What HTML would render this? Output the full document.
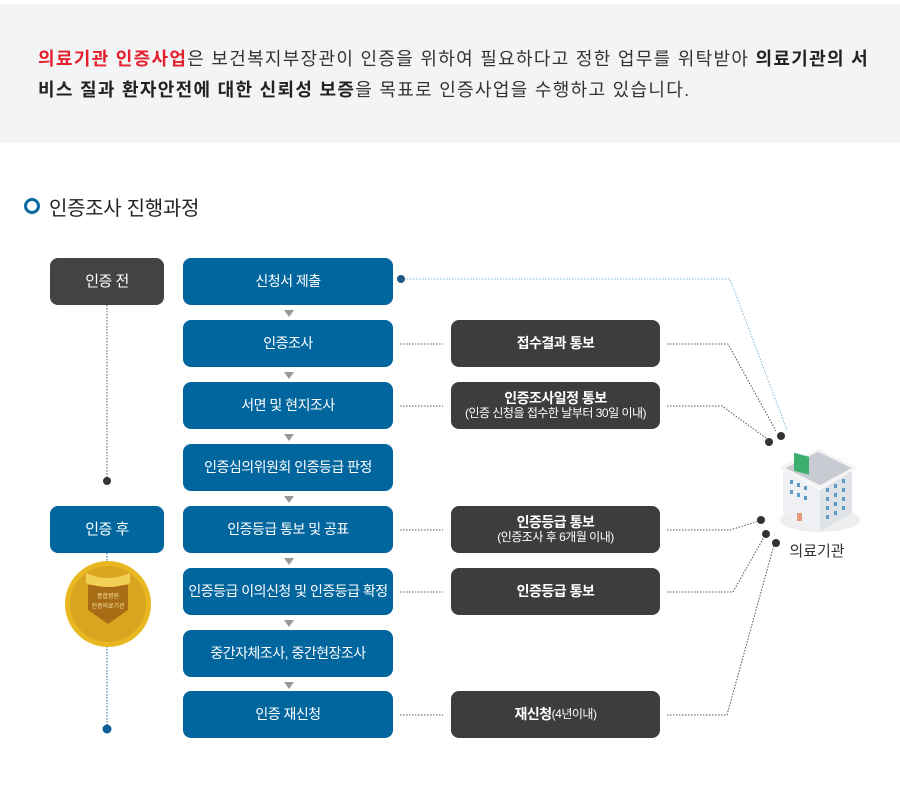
<!DOCTYPE html>
<html><head><meta charset="utf-8"><style>
body{margin:0;width:900px;height:797px;background:#fff;font-family:"Liberation Sans","Noto Sans CJK KR",sans-serif;position:relative;overflow:hidden}
.banner{position:absolute;left:0;top:4px;width:900px;height:139px;background:#f3f4f6}
.banner p{position:absolute;left:38px;top:40px;margin:0;font-size:18px;line-height:31px;color:#333;letter-spacing:1.3px;white-space:nowrap}
.r{color:#e5202e;font-weight:bold}.b{font-weight:bold;color:#222}
.title{position:absolute;left:24px;top:192px;font-size:20px;color:#222;letter-spacing:-0.3px}
.title i{display:inline-block;width:10px;height:10px;border:3px solid #0a6aa1;border-radius:50%;margin-right:9px;vertical-align:1px}
.bx{position:absolute;height:47px;border-radius:8px;color:#fff;font-size:14px;letter-spacing:-0.5px;display:flex;flex-direction:column;align-items:center;justify-content:center;text-align:center;line-height:15px}
.bl{background:#02669e}.dk{background:#434343}.gl{background:#3d3d3d}
.s{font-size:12px;font-weight:normal}
.bxb{font-weight:bold}
</style></head><body>
<div class="banner"><p><span class="r">의료기관 인증사업</span>은 보건복지부장관이 인증을 위하여 필요하다고 정한 업무를 위탁받아 <span class="b">의료기관의 서</span><br><span class="b">비스 질과 환자안전에 대한 신뢰성 보증</span>을 목표로 인증사업을 수행하고 있습니다.</p></div>
<div class="title"><i></i>인증조사 진행과정</div>
<svg width="900" height="797" style="position:absolute;left:0;top:0">
<g stroke="#555" stroke-dasharray="1.5,1.5" fill="none" stroke-width="1">
<line x1="107" y1="305" x2="107" y2="481"/>
<line x1="107" y1="553" x2="107" y2="729" stroke="#1a5f8f"/>
<line x1="400" y1="344" x2="443" y2="344"/>
<line x1="400" y1="406" x2="443" y2="406"/>
<line x1="400" y1="530" x2="443" y2="530"/>
<line x1="400" y1="592" x2="443" y2="592"/>
<line x1="400" y1="715" x2="443" y2="715"/>
<polyline points="667,344 728,344 776,431"/>
<polyline points="667,406 722,406 766,438"/>
<polyline points="667,530 730,530 759,521"/>
<polyline points="667,592 733,592 764,537"/>
<polyline points="667,715 727,715 774,545"/>
<polyline points="404,279 730,279 787,430" stroke="#7fb7d8"/>
</g>
<circle cx="107" cy="481" r="4" fill="#333"/>
<circle cx="107" cy="729" r="4.5" fill="#0a5f96"/>
<circle cx="401" cy="279" r="4" fill="#1f5a85"/>
<g fill="#333"><circle cx="781" cy="436" r="4"/><circle cx="769" cy="442" r="4"/><circle cx="761" cy="520" r="4"/><circle cx="766" cy="534" r="4"/><circle cx="776" cy="543" r="4"/></g>
<g fill="#999"><polygon points="284,310 294,310 289,317"/><polygon points="284,372 294,372 289,379"/><polygon points="284,434 294,434 289,441"/><polygon points="284,496 294,496 289,503"/><polygon points="284,558 294,558 289,565"/><polygon points="284,620 294,620 289,627"/><polygon points="284,682 294,682 289,689"/></g>
<ellipse cx="820" cy="520" rx="40" ry="12" fill="#eee"/>
<polygon points="782,468 820,487 855,468 818,450" fill="#c8ccd2" stroke="#f4f4f4" stroke-width="3"/>
<polygon points="783,470 820,490 820,532 783,513" fill="#eef0f3"/>
<polygon points="820,490 852,471 852,513 820,532" fill="#dfe3e8"/>
<rect x="794" y="450" width="15" height="18" fill="#3cae6e" transform="skewY(15) translate(0,-210)"/>
<g fill="#5b9ac5">
<rect x="790" y="480" width="3" height="4"/><rect x="797" y="483" width="3" height="4"/><rect x="804" y="486" width="3" height="4"/>
<rect x="790" y="490" width="3" height="4"/><rect x="797" y="493" width="3" height="4"/><rect x="804" y="496" width="3" height="4"/>
<rect x="826" y="488" width="3" height="4"/><rect x="834" y="484" width="3" height="4"/><rect x="842" y="479" width="3" height="4"/>
<rect x="826" y="497" width="3" height="4"/><rect x="834" y="493" width="3" height="4"/><rect x="842" y="488" width="3" height="4"/>
<rect x="826" y="506" width="3" height="4"/><rect x="834" y="502" width="3" height="4"/><rect x="842" y="497" width="3" height="4"/>
<rect x="826" y="515" width="3" height="4"/><rect x="834" y="511" width="3" height="4"/><rect x="842" y="506" width="3" height="4"/></g>
<rect x="797" y="513" width="5" height="8" fill="#e19a7e"/>
<text x="817" y="556" font-size="15" fill="#333" text-anchor="middle" font-family="Liberation Sans,Noto Sans CJK KR,sans-serif">의료기관</text>
<circle cx="108" cy="604" r="43" fill="#e8b820"/>
<circle cx="108" cy="604" r="38" fill="#d9a521"/>
<path d="M88,585 h40 v25 l-20,14 l-20,-14z" fill="#a86d14"/>
<path d="M86,573 q22,10 44,0 v10 q-22,8 -44,0z" fill="#f2cf55"/>
<text x="108" y="598" font-size="6" fill="#f6e3a0" text-anchor="middle">종합병원</text>
<text x="108" y="608" font-size="6" fill="#f6e3a0" text-anchor="middle">인증의료기관</text>
</svg>
<div class="bx dk" style="left:50px;top:258px;width:114px;font-size:15px">인증 전</div>
<div class="bx bl" style="left:50px;top:506px;width:114px;font-size:15px">인증 후</div>
<div class="bx bl" style="left:183px;top:258px;width:210px">신청서 제출</div>
<div class="bx bl" style="left:183px;top:320px;width:210px">인증조사</div>
<div class="bx bl" style="left:183px;top:382px;width:210px">서면 및 현지조사</div>
<div class="bx bl" style="left:183px;top:444px;width:210px">인증심의위원회 인증등급 판정</div>
<div class="bx bl" style="left:183px;top:506px;width:210px">인증등급 통보 및 공표</div>
<div class="bx bl" style="left:183px;top:568px;width:210px">인증등급 이의신청 및 인증등급 확정</div>
<div class="bx bl" style="left:183px;top:630px;width:210px">중간자체조사, 중간현장조사</div>
<div class="bx bl" style="left:183px;top:691px;width:210px">인증 재신청</div>
<div class="bx gl bxb" style="left:451px;top:320px;width:209px">접수결과 통보</div>
<div class="bx gl bxb" style="left:451px;top:382px;width:209px">인증조사일정 통보<span class="s">(인증 신청을 접수한 날부터 30일 이내)</span></div>
<div class="bx gl bxb" style="left:451px;top:506px;width:209px">인증등급 통보<span class="s">(인증조사 후 6개월 이내)</span></div>
<div class="bx gl bxb" style="left:451px;top:568px;width:209px">인증등급 통보</div>
<div class="bx gl bxb" style="left:451px;top:691px;width:209px;flex-direction:row">재신청<span class="s">(4년이내)</span></div>
</body></html>
